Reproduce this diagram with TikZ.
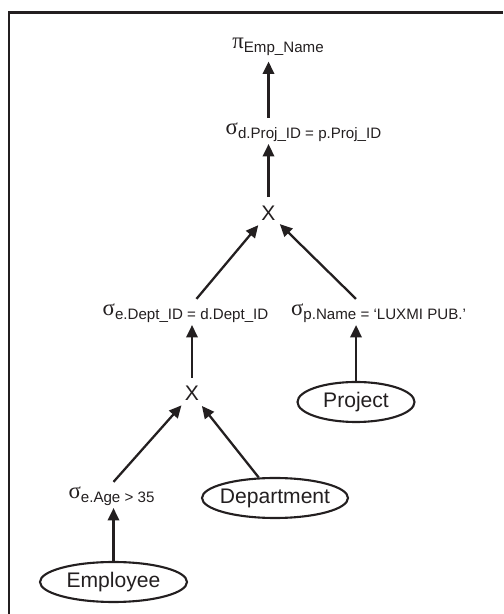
\documentclass[tikz,border=0pt]{standalone}
\usepackage{fontspec}
\setmainfont{Liberation Sans}
\newfontfamily\grk{Liberation Serif}
\usetikzlibrary{arrows.meta,shapes.geometric}
\definecolor{cInk}{HTML}{231F20}
\tikzset{
  every node/.style={font=\fontsize{12}{14}\selectfont, text=cInk},
  op/.style={inner sep=1pt, text height=8pt, text depth=4.5pt},
  cross/.style={circle, inner sep=2.2pt},
  rel/.style={ellipse, draw=cInk, line width=1.2pt, inner xsep=-4pt, inner ysep=0pt, minimum height=0.8cm},
  arr/.style={-{Triangle[length=7pt,width=6.5pt]}, line width=1.3pt, draw=cInk},
  frame/.style={line width=1.5pt, draw=cInk},
}
\newcommand{\rop}[2]{{\grk\fontsize{13}{13}\selectfont #1}\raisebox{-2.6pt}{\fontsize{8.6}{9}\selectfont #2}}

\begin{document}
\begin{tikzpicture}
\useasboundingbox (0,0) rectangle (10.06,12.28);
\draw[frame] (0.18,0) |- (10.06,12.03);
% operators
\node[op] (proj) at (5.56,11.38) {\rop{π}{Emp\_Name}};
\node[op] (jsel) at (6.07,9.66) {\rop{σ}{d.Proj\_ID = p.Proj\_ID}};
\node[cross] (x1) at (5.37,8.02) {X};
\node[op] (dsel) at (3.71,6.04) {\rop{σ}{e.Dept\_ID = d.Dept\_ID}};
\node[op] (psel) at (7.57,6.04) {\rop{σ}{p.Name = ‘LUXMI PUB.’}};
\node[cross] (x2) at (3.84,4.41) {X};
\node[op] (asel) at (2.23,2.38) {\rop{σ}{e.Age > 35}};
% relations
\node[rel, minimum width=2.34cm] (projt) at (7.12,4.24) {Project};
\node[rel, minimum width=2.92cm] (dept) at (5.50,2.32) {Department};
\node[rel, minimum width=2.94cm] (emp) at (2.27,0.64) {Employee};
% edges
\draw[arr] (emp.north) -- (emp.north |- asel.south);
\draw[arr] (emp.north |- asel.north) -- (x2);
\draw[arr] (dept) -- (x2);
\draw[arr] (x2.north) -- (x2.north |- dsel.south);
\draw[arr] (projt.north) -- (projt.north |- psel.south);
\draw[arr] (dsel) -- (x1);
\draw[arr] (projt.north |- psel.north) -- (x1);
\draw[arr] (x1.north) -- (x1.north |- jsel.south);
\draw[arr, shorten >=2pt] (x1 |- jsel.north) -- (x1 |- proj.south);
\end{tikzpicture}
\end{document}
